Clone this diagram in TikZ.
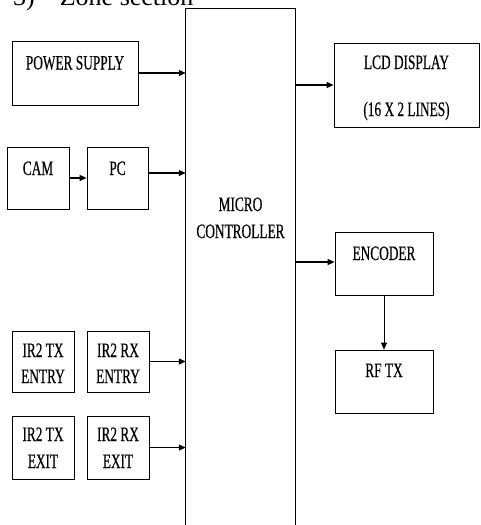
\documentclass[tikz,border=0pt]{standalone}
\usepackage{fontspec}
\setmainfont{Liberation Serif}
\newfontfamily\condfont[FakeStretch=0.65,FakeBold=0.4]{Liberation Serif}
\usetikzlibrary{arrows.meta}
\begin{document}
\begin{tikzpicture}[x=1pt,y=-1pt,
  box/.style={draw,line width=0.8pt,inner sep=0pt},
  lbl/.style={font=\condfont\fontsize{20.5}{22}\selectfont,anchor=base,inner sep=0pt},
  arr/.style={line width=1.1pt,-{Triangle[length=7pt,width=6pt]}}]
\useasboundingbox (0,0) rectangle (480,525);
% title
\node[anchor=base west,inner sep=0pt,font=\fontsize{26}{28}\selectfont] (title) at (13,5) {3)\hspace{25pt}Zone section};
% micro controller (open at bottom)
\node[inner sep=0pt,minimum width=109pt,minimum height=531pt] (mc) at (240.5,274.5) {};
\draw[line width=0.8pt] (mc.south west) -- (mc.north west) -- (mc.north east) -- (mc.south east);
\node[lbl] (mct1) at (240.5,211) {MICRO};
\node[lbl] (mct2) at (240.5,238) {CONTROLLER};
% boxes
\node[box,minimum width=126pt,minimum height=64pt] (ps) at (75,73) {};
\node[lbl] (pst) at (75,69.5) {POWER SUPPLY};
\node[box,minimum width=145pt,minimum height=84pt] (lcd) at (406.5,85) {};
\node[lbl] (lcdt1) at (406.5,69) {LCD DISPLAY};
\node[lbl] (lcdt2) at (406.5,116) {(16 X 2 LINES)};
\node[box,minimum width=62pt,minimum height=62pt] (cam) at (38,178) {};
\node[lbl] (camt) at (38,175) {CAM};
\node[box,minimum width=61pt,minimum height=62pt] (pc) at (117.5,178) {};
\node[lbl] (pct) at (117.5,175) {PC};
\node[box,minimum width=98pt,minimum height=63pt] (enc) at (384,263.5) {};
\node[lbl] (enct) at (384,260) {ENCODER};
\node[box,minimum width=98pt,minimum height=63pt] (rf) at (384,381.5) {};
\node[lbl] (rft) at (384,377) {RF TX};
\node[box,minimum width=62pt,minimum height=61pt] (irtxen) at (43,361.5) {};
\node[lbl] (irtxent1) at (43,357) {IR2 TX};
\node[lbl] (irtxent2) at (43,383) {ENTRY};
\node[box,minimum width=62pt,minimum height=61pt] (irrxen) at (118,361.5) {};
\node[lbl] (irrxent1) at (118,357) {IR2 RX};
\node[lbl] (irrxent2) at (118,383) {ENTRY};
\node[box,minimum width=62pt,minimum height=63pt] (irtxex) at (43,447.5) {};
\node[lbl] (irtxext1) at (43,441) {IR2 TX};
\node[lbl] (irtxext2) at (43,468) {EXIT};
\node[box,minimum width=62pt,minimum height=63pt] (irrxex) at (118,447.5) {};
\node[lbl] (irrxext1) at (118,441) {IR2 RX};
\node[lbl] (irrxext2) at (118,468) {EXIT};
% connectors
\draw[arr] (ps.east) -- (ps.east -| mc.west);
\draw[arr] (lcd.west -| mc.east) -- (lcd.west);
\draw[arr] (cam.east) -- (pc.west);
\draw[arr] ([yshift=5pt]pc.east) -- ([yshift=5pt]pc.east -| mc.west);
\draw[arr] ([yshift=1.5pt]enc.west -| mc.east) -- ([yshift=1.5pt]enc.west);
\draw[arr,line width=0.8pt] (enc.south) -- (rf.north);
\draw[arr] (irrxen.east) -- (irrxen.east -| mc.west);
\draw[arr] (irrxex.east) -- (irrxex.east -| mc.west);
\end{tikzpicture}
\end{document}
